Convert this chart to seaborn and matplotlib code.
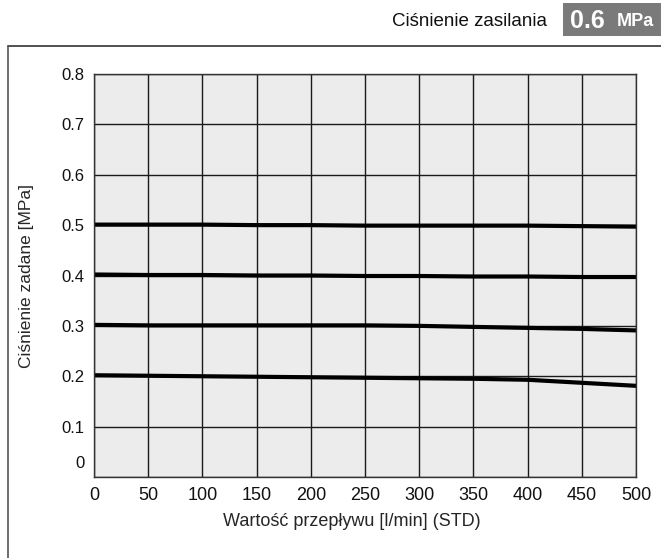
import numpy as np
import pandas as pd
import matplotlib
matplotlib.use("Agg")
import matplotlib.pyplot as plt
import matplotlib.transforms as mtransforms
import seaborn as sns

# Flow rate [l/min] (STD)
flow = [0, 50, 100, 150, 200, 250, 300, 350, 400, 450, 500]

# Outlet pressure [MPa] for each set point at 0.6 MPa supply
p_05 = [0.501, 0.501, 0.501, 0.500, 0.500, 0.499, 0.499, 0.499, 0.499, 0.498, 0.497]
p_04 = [0.402, 0.401, 0.401, 0.400, 0.400, 0.399, 0.399, 0.398, 0.398, 0.397, 0.397]
p_03 = [0.302, 0.301, 0.301, 0.301, 0.301, 0.301, 0.300, 0.298, 0.296, 0.294, 0.291]
p_02 = [0.202, 0.201, 0.200, 0.199, 0.198, 0.197, 0.196, 0.195, 0.193, 0.187, 0.181]

x_ticks = [0, 50, 100, 150, 200, 250, 300, 350, 400, 450, 500]
y_ticks = [0, 0.1, 0.2, 0.3, 0.4, 0.5, 0.6, 0.7, 0.8]
y_tick_labels = ["0", "0.1", "0.2", "0.3", "0.4", "0.5", "0.6", "0.7", "0.8"]

series = {"0.5": p_05, "0.4": p_04, "0.3": p_03, "0.2": p_02}
df = pd.concat(
    [pd.DataFrame({"flow": flow, "pressure": v, "set": k}) for k, v in series.items()],
    ignore_index=True,
)

sns.set_style("whitegrid", {
    "axes.facecolor": "#ececec",
    "axes.edgecolor": "#222222",
    "grid.color": "#1a1a1a",
})
plt.rcParams["font.family"] = ["Liberation Sans", "DejaVu Sans"]

fig = plt.figure(figsize=(6.61, 5.58), dpi=100)
ax = fig.add_axes([94 / 661, 1 - 477 / 558, 542 / 661, 403 / 558])

sns.lineplot(
    data=df, x="flow", y="pressure", hue="set",
    palette=["#000000"] * 4, linewidth=3.0, legend=False, ax=ax,
)

ax.set_xlim(0, 500)
ax.set_ylim(0, 0.8)
ax.set_xticks(x_ticks)
ax.set_xticklabels([str(t) for t in x_ticks], fontsize=13)
ax.set_yticks(y_ticks)
ax.set_yticklabels(y_tick_labels, fontsize=12)
ax.grid(True, color="#1a1a1a", linewidth=1.0)
for s in ax.spines.values():
    s.set_linewidth(1.0)
    s.set_color("#333333")
ax.tick_params(axis="x", length=0, pad=7, colors="#111111")
ax.tick_params(axis="y", length=0, pad=7, colors="#111111")

# The zero on the pressure axis sits a little above the corner
zero_lbl = ax.get_yticklabels()[0]
zero_lbl.set_transform(zero_lbl.get_transform() +
                       mtransforms.ScaledTranslation(0, 11 / 72, fig.dpi_scale_trans))

ax.set_xlabel("Wartość przepływu [l/min] (STD)", fontsize=13)
ax.xaxis.set_label_coords((352 - 94) / 542, (477 - 522) / 403)
ax.xaxis.label.set_va("center")
ax.set_ylabel("Ciśnienie zadane [MPa]", fontsize=12.5)
ax.yaxis.set_label_coords((27 - 94) / 542, 0.5)
ax.yaxis.label.set_va("center")

# Outer frame lines (top and left)
fig.add_artist(plt.Line2D([8 / 661, 1.0], [1 - 46 / 558] * 2, color="#333333", lw=1.2))
fig.add_artist(plt.Line2D([8 / 661] * 2, [0.0, 1 - 46 / 558], color="#555555", lw=1.2))

# Supply pressure header
fig.text(547 / 661, 1 - 22 / 558, "Ciśnienie zasilania", ha="right", va="center",
         fontsize=13.5, color="#111111")
fig.patches.append(matplotlib.patches.Rectangle(
    (563 / 661, 1 - 36 / 558), 98 / 661, 33 / 558,
    transform=fig.transFigure, facecolor="#7a7a7a", edgecolor="none"))
fig.text(570 / 661, 1 - 21 / 558, "0.6", ha="left", va="center",
         fontsize=18, fontweight="bold", color="white")
fig.text(617 / 661, 1 - 22 / 558, "MPa", ha="left", va="center",
         fontsize=13, fontweight="bold", color="white")

fig.savefig("out.png", dpi=100)
